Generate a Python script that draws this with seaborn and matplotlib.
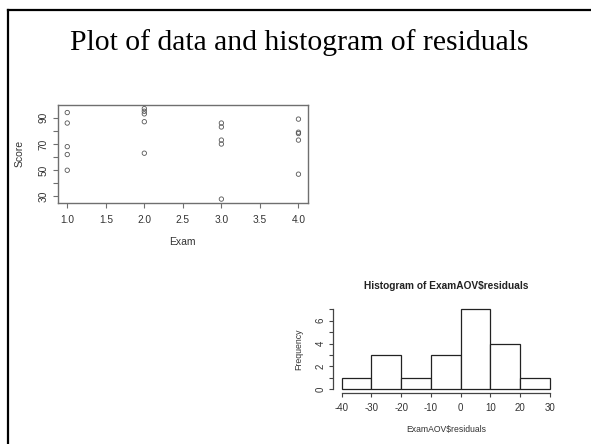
import numpy as np
import pandas as pd
import matplotlib
matplotlib.use("Agg")
import matplotlib.pyplot as plt
from matplotlib.lines import Line2D
import seaborn as sns

# ---- data ----
exam = [1, 1, 1, 1, 1, 2, 2, 2, 2, 2, 3, 3, 3, 3, 3, 4, 4, 4, 4, 4]
score = [94, 86, 68, 62, 50,
         97, 95, 93, 87, 63,
         86, 83, 73, 70, 28,
         89, 79, 78, 73, 47]
x_ticks = [1.0, 1.5, 2.0, 2.5, 3.0, 3.5, 4.0]
x_ticklabels = ["1.0", "1.5", "2.0", "2.5", "3.0", "3.5", "4.0"]
y_ticks_lab = [30, 50, 70, 90]
y_ticks_minor = [40, 60, 80]

hist_edges = [-40, -30, -20, -10, 0, 10, 20, 30]
hist_counts = [1, 3, 1, 3, 7, 4, 1]
hist_yticks = [0, 2, 4, 6]
hist_yminor = [1, 3, 5, 7]

title = "Plot of data and histogram of residuals"
hist_title = "Histogram of ExamAOV$residuals"

# ---- figure ----
W, H = 591, 444
fig = plt.figure(figsize=(W / 100, H / 100), dpi=100)
fig.patch.set_facecolor("white")
plt.rcParams["font.family"] = ["Liberation Sans", "DejaVu Sans"]

txt = "#333333"
axc = "#6f6f6f"

def px_axes(l, t, r, b):
    return fig.add_axes([l / W, 1 - b / H, (r - l) / W, (b - t) / H])

# slide frame
fig.add_artist(Line2D([8 / W, 1.0], [1 - 10 / H, 1 - 10 / H], color="black", lw=1.6,
                      transform=fig.transFigure))
fig.add_artist(Line2D([8 / W, 8 / W], [1 - 10 / H, 0.0], color="black", lw=1.6,
                      transform=fig.transFigure))

fig.text(299.5 / W, 1 - 43 / H, title, ha="center", va="center",
         family=["Liberation Serif", "DejaVu Serif"], fontsize=21.3, color="black")

# ---- scatter ----
ax = px_axes(58, 105, 307.7, 202.7)
df = pd.DataFrame({"Exam": exam, "Score": score})
sns.scatterplot(data=df, x="Exam", y="Score", ax=ax, marker="o", s=10,
                facecolor="none", edgecolor="#555555", linewidth=0.6)
rx = max(exam) - min(exam)
ry = max(score) - min(score)
ax.set_xlim(min(exam) - 0.04 * rx, max(exam) + 0.04 * rx)
ax.set_ylim(min(score) - 0.04 * ry, max(score) + 0.04 * ry)
ax.set_xticks(x_ticks)
ax.set_xticklabels(x_ticklabels)
ax.set_yticks(y_ticks_lab)
ax.set_yticklabels([str(v) for v in y_ticks_lab], rotation=90, va="center")
ax.set_yticks(y_ticks_minor, minor=True)
for s in ax.spines.values():
    s.set_color(axc)
    s.set_linewidth(1.0)
ax.tick_params(axis="both", which="both", length=3.5, width=0.8, color=axc,
               labelsize=7.3, labelcolor=txt)
ax.tick_params(axis="x", pad=5.5)
ax.tick_params(axis="y", pad=3.0)
ax.set_xlabel("")
ax.set_ylabel("")
ax.text(0.5, -0.402, "Exam", transform=ax.transAxes, ha="center", va="center",
        fontsize=7.5, color=txt)
ax.text(-0.152, 0.5, "Score", transform=ax.transAxes, ha="center", va="center",
        rotation=90, fontsize=7.5, color=txt)

# ---- histogram ----
ax2 = px_axes(333.4, 306.1, 558.3, 392.5)
centers = [(hist_edges[i] + hist_edges[i + 1]) / 2 for i in range(len(hist_counts))]
sns.histplot(x=centers, weights=hist_counts, bins=hist_edges, ax=ax2,
             color="white", edgecolor="#222222", linewidth=0.9, alpha=1)
xr = hist_edges[-1] - hist_edges[0]
ax2.set_xlim(hist_edges[0] - 0.04 * xr, hist_edges[-1] + 0.04 * xr)
ymax = max(hist_counts)
ax2.set_ylim(-0.04 * ymax, ymax * 1.04)
ax2.set_xticks(hist_edges)
ax2.set_xticklabels([str(v) for v in hist_edges])
ax2.set_yticks(hist_yticks)
ax2.set_yticklabels([str(v) for v in hist_yticks], rotation=90, va="center")
ax2.set_yticks(hist_yminor, minor=True)
ax2.spines["top"].set_visible(False)
ax2.spines["right"].set_visible(False)
ax2.spines["left"].set_bounds(0, ymax)
ax2.spines["bottom"].set_bounds(hist_edges[0], hist_edges[-1])
for k in ("left", "bottom"):
    ax2.spines[k].set_color("#444444")
    ax2.spines[k].set_linewidth(0.9)
ax2.tick_params(axis="both", which="both", length=3.2, width=0.8, color="#444444",
                labelsize=7, labelcolor=txt)
ax2.tick_params(axis="x", pad=4.0)
ax2.tick_params(axis="y", pad=2.5)
ax2.set_xlabel("")
ax2.set_ylabel("")
ax2.text(0.5, 1.236, hist_title, transform=ax2.transAxes, ha="center", va="center",
         fontsize=7.3, fontweight="bold", color="#222222", parse_math=False)
ax2.text(0.5, -0.426, "ExamAOV$residuals", transform=ax2.transAxes, ha="center",
         va="center", fontsize=6.2, color=txt, parse_math=False)
ax2.text(-0.152, 0.5, "Frequency", transform=ax2.transAxes, ha="center",
         va="center", rotation=90, fontsize=6.3, color=txt)

fig.savefig("out.png", dpi=100, facecolor="white")
